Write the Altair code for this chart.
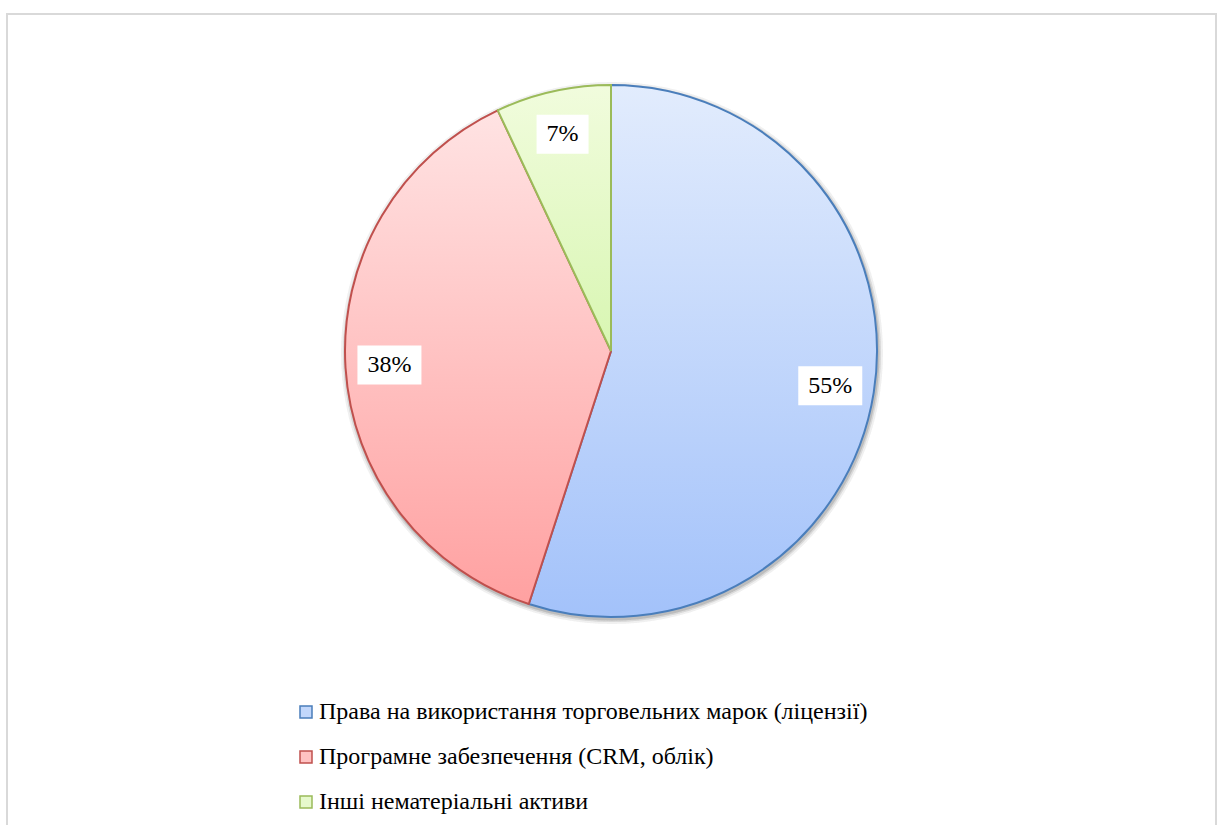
import math
import altair as alt
import pandas as pd

categories = [
    "Права на використання торговельних марок (ліцензії)",
    "Програмне забезпечення (CRM, облік)",
    "Інші нематеріальні активи",
]
values = [55, 38, 7]
order = [1, 2, 3]

fill_tops = ["#e2ecfd", "#ffe3e3", "#f1fcdd"]
fill_bottoms = ["#a3c2fa", "#ffa1a1", "#d8f6b2"]
strokes = ["#4a7ebb", "#c0504d", "#9bbb59"]
legend_fills = ["#c2d7fb", "#ffc2c2", "#e6f9cc"]

df = pd.DataFrame({"category": categories, "value": values, "order": order})

W, H = 1221, 825
CX, CY = 611, 345
R = 266
LR = 222
TWO_PI = 2 * math.pi
FONT = "Liberation Serif"

base = (
    alt.Chart(df)
    .transform_joinaggregate(total="sum(value)")
    .transform_window(cum="sum(value)", sort=[alt.SortField("order")], frame=[None, 0])
    .transform_calculate(
        start="(datum.cum - datum.value) / datum.total",
        end="datum.cum / datum.total",
    )
)

theta_scale = alt.Scale(domain=[0, 1], range=[0, TWO_PI])
xs = alt.Scale(domain=[-CX, W - CX], range=[0, W], nice=False, zero=False)
ys = alt.Scale(domain=[-(H - CY), CY], range=[H, 0], nice=False, zero=False)

border = alt.Chart(df).mark_rect(fill="transparent", stroke="#d9d9d9", strokeWidth=2).encode(
    x=alt.value(7), x2=alt.value(1216), y=alt.value(8), y2=alt.value(840)
)

shadows = []
for rad, op in [(271, 0.04), (269, 0.07), (267.5, 0.12)]:
    shadows.append(
        alt.Chart(df).mark_arc(radius=rad, theta=0, theta2=TWO_PI, fill="#808080", opacity=op)
        .encode(x=alt.value(CX + 1), y=alt.value(CY + 2))
    )

slices = []
for cat, top, bot, st in zip(categories, fill_tops, fill_bottoms, strokes):
    grad = alt.Gradient(
        gradient="linear",
        stops=[alt.GradientStop(color=top, offset=0), alt.GradientStop(color=bot, offset=1)],
        x1=0, x2=0, y1=0, y2=1,
    )
    slices.append(
        base.transform_filter(alt.datum.category == cat)
        .mark_arc(radius=R, fill=grad, stroke=st, strokeWidth=2)
        .encode(
            theta=alt.Theta("start:Q", scale=theta_scale),
            theta2="end:Q",
            x=alt.value(CX),
            y=alt.value(CY),
        )
    )

lab = base.transform_calculate(
    label="toString(datum.value) + '%'",
    ang="(datum.start + datum.end) / 2 * 2 * PI",
).transform_calculate(
    lx=f"{LR} * sin(datum.ang)",
    ly=f"{LR} * cos(datum.ang)",
    hw="((length(datum.label) - 1) * 12 + 40) / 2",
).transform_calculate(
    bx1="datum.lx - datum.hw",
    bx2="datum.lx + datum.hw",
    by1="datum.ly - 19.5",
    by2="datum.ly + 19.5",
)

boxes = lab.mark_rect(fill="white").encode(
    x=alt.X("bx1:Q", scale=xs, axis=None),
    x2="bx2:Q",
    y=alt.Y("by1:Q", scale=ys, axis=None),
    y2="by2:Q",
)

texts = lab.mark_text(font=FONT, fontSize=24, color="black", baseline="middle", align="center").encode(
    x=alt.X("lx:Q", scale=xs, axis=None),
    y=alt.Y("ly:Q", scale=ys, axis=None),
    text="label:N",
)

def make_legend():
    return alt.Legend(
        title=None,
        orient="none",
        legendX=294,
        legendY=694,
        direction="vertical",
        symbolType="square",
        symbolSize=144,
        symbolStrokeWidth=1.5,
        symbolOpacity=1,
        labelFont=FONT,
        labelFontSize=24,
        labelColor="black",
        labelLimit=900,
        labelOffset=1,
        rowPadding=21,
        padding=0,
    )

legend_carrier = alt.Chart(df).mark_text(text="", font=FONT).encode(
    x=alt.value(0),
    y=alt.value(0),
    fill=alt.Fill("category:N", scale=alt.Scale(domain=categories, range=legend_fills), legend=make_legend()),
    stroke=alt.Stroke("category:N", scale=alt.Scale(domain=categories, range=strokes), legend=make_legend()),
)

chart = (
    alt.layer(border, *shadows, *slices, boxes, texts, legend_carrier)
    .resolve_scale(fill="independent", stroke="independent")
    .properties(width=W, height=H, padding=0, background="white")
    .configure_view(stroke=None)
)

chart.save("out.html", embed_options={"renderer": "svg", "actions": False})
